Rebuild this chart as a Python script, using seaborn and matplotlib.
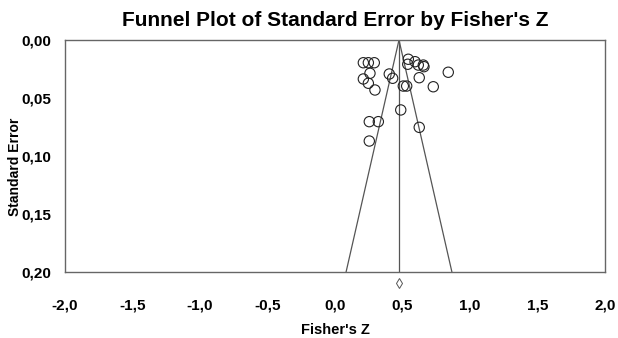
import matplotlib
matplotlib.use("Agg")
import matplotlib.pyplot as plt
import seaborn as sns
import pandas as pd
import numpy as np
from matplotlib.ticker import FuncFormatter, FixedLocator

fisher_z = [0.210, 0.247, 0.291, 0.543, 0.593, 0.539, 0.617, 0.654, 0.659, 0.839,
            0.259, 0.210, 0.247, 0.296, 0.402, 0.427, 0.624, 0.506, 0.531, 0.728,
            0.487, 0.254, 0.321, 0.624, 0.254]
std_err = [0.0196, 0.0196, 0.0196, 0.0166, 0.0187, 0.0209, 0.0216, 0.0216, 0.0230, 0.0278,
           0.0287, 0.0336, 0.0373, 0.0431, 0.0293, 0.0330, 0.0325, 0.0397, 0.0397, 0.0403,
           0.0603, 0.0704, 0.0704, 0.0753, 0.0871]
pooled = 0.474
se_max = 0.20
x_ticks = [-2.0, -1.5, -1.0, -0.5, 0.0, 0.5, 1.0, 1.5, 2.0]
y_ticks = [0.00, 0.05, 0.10, 0.15, 0.20]

df = pd.DataFrame({"Fisher's Z": fisher_z, "Standard Error": std_err})

sns.set_theme(style="white")
plt.rcParams['font.family'] = ['Liberation Sans', 'DejaVu Sans']
plt.rcParams['text.color'] = 'black'
plt.rcParams['axes.labelcolor'] = 'black'
plt.rcParams['xtick.labelcolor'] = 'black'
plt.rcParams['ytick.labelcolor'] = 'black'

fig = plt.figure(figsize=(6.18, 3.38), dpi=100)
ax = fig.add_axes([65/618, 66/338, 540/618, 232/338])

line_col = "#555555"
ax.plot([pooled, pooled], [0, se_max], color=line_col, lw=0.9)
ax.plot([pooled, pooled - 1.96 * se_max], [0, se_max], color=line_col, lw=0.9)
ax.plot([pooled, pooled + 1.96 * se_max], [0, se_max], color=line_col, lw=0.9)

sns.scatterplot(data=df, x="Fisher's Z", y="Standard Error", ax=ax,
                facecolor="none", edgecolor="#222222", linewidth=0.8, s=55,
                zorder=3)

ax.plot([pooled], [0.2095], marker='d', markersize=5, markerfacecolor='white',
        markeredgecolor='#555555', markeredgewidth=0.7, clip_on=False)

ax.set_xlim(-2.0, 2.0)
ax.set_ylim(se_max, 0.0)
ax.xaxis.set_major_locator(FixedLocator(x_ticks))
ax.yaxis.set_major_locator(FixedLocator(y_ticks))
ax.xaxis.set_major_formatter(FuncFormatter(lambda v, p: f"{v:.1f}".replace('.', ',')))
ax.yaxis.set_major_formatter(FuncFormatter(lambda v, p: f"{v:.2f}".replace('.', ',')))

for s in ax.spines.values():
    s.set_color("#666666")
    s.set_linewidth(1.0)
    s.set_visible(True)

ax.tick_params(axis='x', direction='inout', length=6, width=0.8, color="#666666",
               pad=16, labelsize=11, labelcolor='black')
ax.tick_params(axis='y', direction='out', length=4, width=0.8, color="#666666",
               pad=6, labelsize=11, labelcolor='black')
for lab in ax.get_xticklabels() + ax.get_yticklabels():
    lab.set_fontweight('bold')

ax.set_xlabel("Fisher's Z", fontsize=10.5, fontweight='bold', color='black')
ax.set_ylabel("Standard Error", fontsize=10, fontweight='bold', color='black')
ax.xaxis.set_label_coords(0.5, -(330 - 272) / 232)
ax.xaxis.label.set_va('center')
ax.yaxis.set_label_coords(-(65 - 15) / 540, (272 - 167) / 232)
ax.yaxis.label.set_va('center')

fig.text(335/618, 1 - 21/338, "Funnel Plot of Standard Error by Fisher's Z",
         ha='center', va='center', fontsize=15, fontweight='bold', color='black')

fig.savefig("out.png", dpi=100)
